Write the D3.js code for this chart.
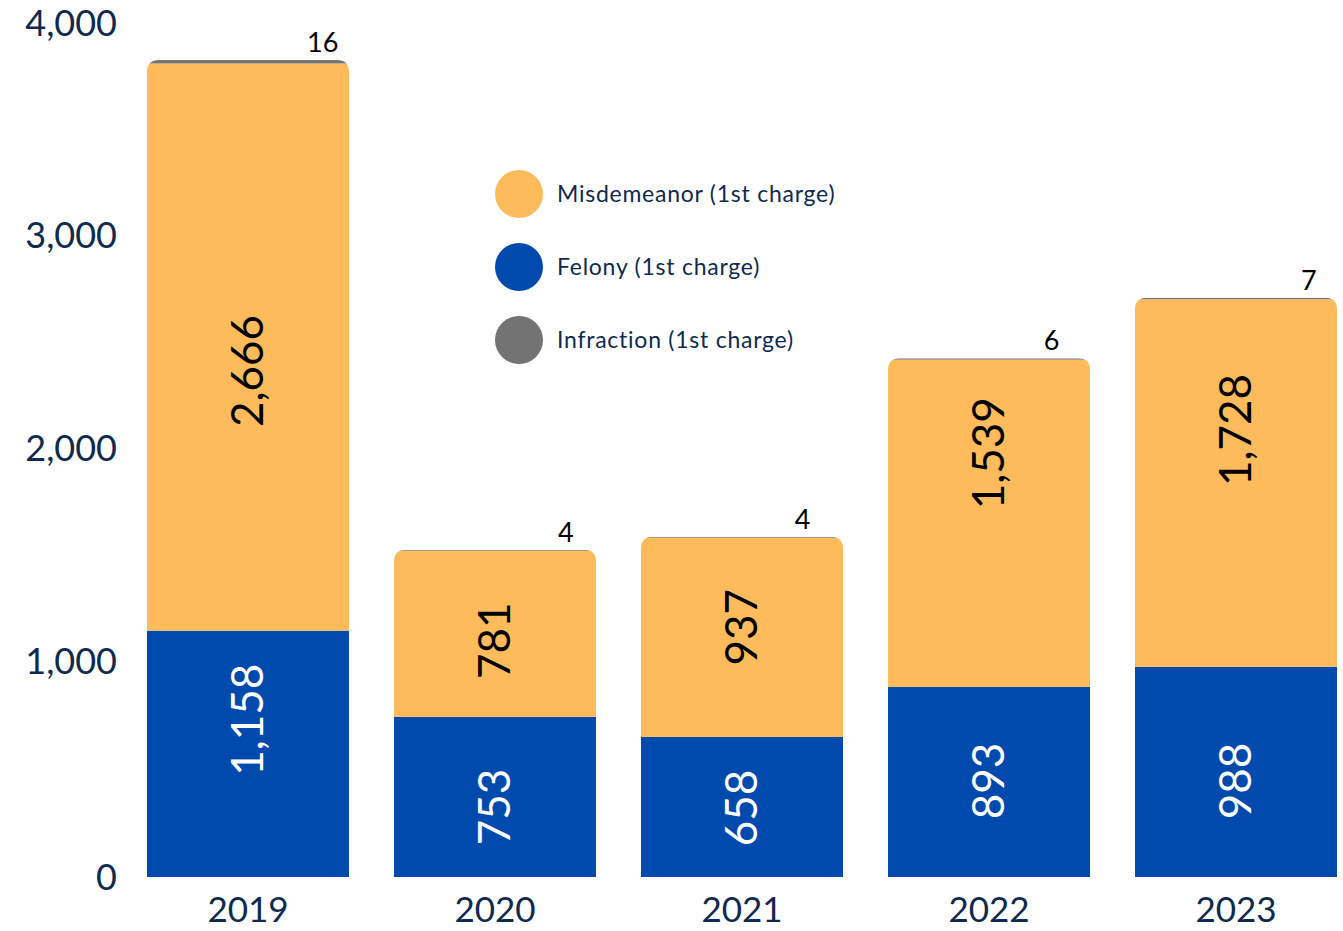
<!DOCTYPE html>
<html>
<head>
<meta charset="utf-8">
<script src="https://cdn.jsdelivr.net/npm/d3@7"></script>
<style>
  body { margin: 0; background: #fff; }
  svg text { font-family: Lato, "Open Sans", sans-serif; }
</style>
</head>
<body>
<div id="chart"></div>
<script>
// data
var years = ["2019", "2020", "2021", "2022", "2023"];
var felony = [1158, 753, 658, 893, 988];
var misdemeanor = [2666, 781, 937, 1539, 1728];
var infraction = [16, 4, 4, 6, 7];
var yTicks = [0, 1000, 2000, 3000, 4000];
var seriesNames = ["Misdemeanor (1st charge)", "Felony (1st charge)", "Infraction (1st charge)"];

// layout only: nudges for the value labels, in px (the original places them by hand)
var misShift = [24, 7, -10, -70, -53];
var felShift = [-34, 10, 1, -1, 9];
var infPos = [0.87, 0.85, 0.80, 0.81, 0.86];

var colors = {felony: "#004aad", misdemeanor: "#fdbb5b", infraction: "#737373"};
var navy = "#0f2a4e";

var svgWidth = 1343;
var svgHeight = 931;

var svg = d3.select("#chart")
    .append("svg")
    .attr("width", svgWidth)
    .attr("height", svgHeight);

var rows = years.map(function(y, i) {
    return {year: y, felony: felony[i], misdemeanor: misdemeanor[i], infraction: infraction[i], i: i};
});

var stack = d3.stack().keys(["felony", "misdemeanor", "infraction"]);
var series = stack(rows);

var x = d3.scaleBand()
    .domain(years)
    .range([147, 1337])
    .paddingInner(0.182)
    .paddingOuter(0);

var y = d3.scaleLinear()
    .domain([0, 4000])
    .range([877, 26]);

// y axis labels
var yAxis = d3.axisLeft(y).tickValues(yTicks).tickFormat(d3.format(",")).tickSize(0).tickPadding(0);
var yg = svg.append("g")
    .attr("transform", "translate(117,0)")
    .call(yAxis);
yg.select(".domain").remove();
yg.selectAll("text")
    .attr("fill", navy)
    .attr("font-size", 36)
    .attr("dy", d => d === 0 ? "0.35em" : "0.25em");

// x axis labels
var xAxis = d3.axisBottom(x).tickSize(0).tickPadding(0);
var xg = svg.append("g")
    .attr("transform", "translate(0,897)")
    .call(xAxis);
xg.select(".domain").remove();
xg.selectAll("text")
    .attr("fill", navy)
    .attr("font-size", 35)
    .attr("dy", "0.71em");

// rounded clip per bar so the top corners round off
var defs = svg.append("defs");
rows.forEach(function(d) {
    var top = y(d.felony + d.misdemeanor + d.infraction);
    var r = 12;
    var x0 = x(d.year), x1 = x0 + x.bandwidth(), y1 = y(0);
    defs.append("clipPath")
        .attr("id", "clip" + d.i)
        .append("path")
        .attr("d", "M" + x0 + "," + y1 + "V" + (top + r) +
            "Q" + x0 + "," + top + " " + (x0 + r) + "," + top +
            "H" + (x1 - r) + "Q" + x1 + "," + top + " " + x1 + "," + (top + r) +
            "V" + y1 + "Z");
});

var bars = svg.selectAll(".bar")
    .data(rows)
    .enter()
    .append("g")
    .attr("class", "bar")
    .attr("clip-path", d => "url(#clip" + d.i + ")");

bars.each(function(d) {
    var g = d3.select(this);
    series.forEach(function(s) {
        var seg = s[d.i];
        g.append("rect")
            .attr("x", x(d.year))
            .attr("width", x.bandwidth())
            .attr("y", y(seg[1]))
            .attr("height", y(seg[0]) - y(seg[1]))
            .attr("fill", colors[s.key]);
    });
});

// rotated value labels inside segments
var fmt = d3.format(",");
var felSeg = series[0], misSeg = series[1], infSeg = series[2];

svg.selectAll(".felLabel")
    .data(rows)
    .enter()
    .append("text")
    .attr("transform", function(d) {
        var cx = x(d.year) + x.bandwidth() / 2;
        var cy = (y(felSeg[d.i][0]) + y(felSeg[d.i][1])) / 2 + felShift[d.i];
        return "translate(" + cx + "," + cy + ") rotate(-90)";
    })
    .attr("text-anchor", "middle")
    .attr("dy", "0.35em")
    .attr("font-size", 44)
    .attr("fill", "#ffffff")
    .text(d => fmt(d.felony));

svg.selectAll(".misLabel")
    .data(rows)
    .enter()
    .append("text")
    .attr("transform", function(d) {
        var cx = x(d.year) + x.bandwidth() / 2;
        var cy = (y(misSeg[d.i][0]) + y(misSeg[d.i][1])) / 2 + misShift[d.i];
        return "translate(" + cx + "," + cy + ") rotate(-90)";
    })
    .attr("text-anchor", "middle")
    .attr("dy", "0.35em")
    .attr("font-size", 44)
    .attr("fill", "#000000")
    .text(d => fmt(d.misdemeanor));

// small infraction numbers above the bars
svg.selectAll(".infLabel")
    .data(rows)
    .enter()
    .append("text")
    .attr("x", d => x(d.year) + x.bandwidth() * infPos[d.i])
    .attr("y", d => y(infSeg[d.i][1]) - 8)
    .attr("text-anchor", "middle")
    .attr("font-size", 27)
    .attr("fill", "#000000")
    .text(d => d.infraction);

// legend
var legendColors = [colors.misdemeanor, colors.felony, colors.infraction];
var legend = svg.selectAll(".legend")
    .data(seriesNames)
    .enter()
    .append("g")
    .attr("class", "legend")
    .attr("transform", (d, i) => "translate(519," + (194 + i * 73) + ")");

legend.append("circle")
    .attr("r", 24)
    .attr("fill", (d, i) => legendColors[i]);

legend.append("text")
    .attr("x", 38)
    .attr("dy", "0.35em")
    .attr("font-size", 23)
    .attr("fill", navy)
    .attr("letter-spacing", 0.75)
    .text(d => d);
</script>
</body>
</html>
